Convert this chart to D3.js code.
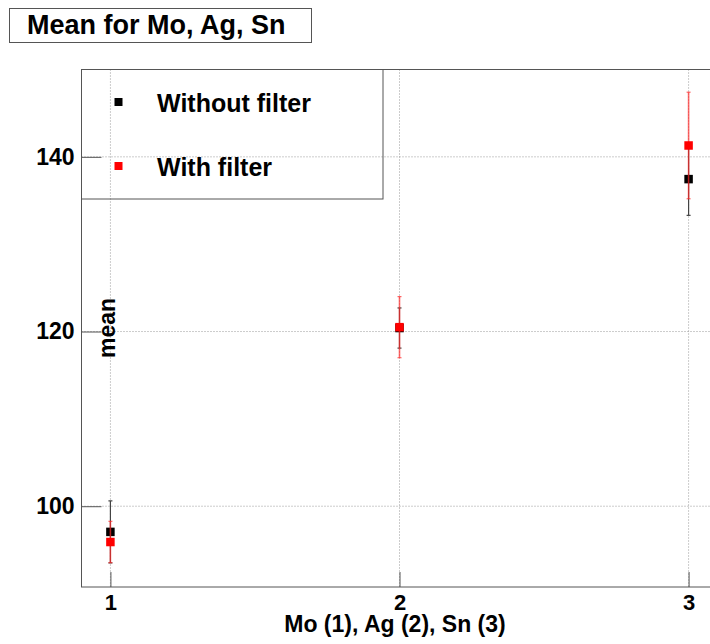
<!DOCTYPE html>
<head>
<meta charset="utf-8">
<script src="https://cdn.jsdelivr.net/npm/d3@7"></script>
<style>
body { margin: 0; background: #fff; }
svg text { font-family: "Liberation Sans", Arial, sans-serif; font-weight: bold; fill: #000; }
.axis .domain { display: none; }
.axis line { stroke: #555; }
</style>
</head>
<body>
<svg id="chart" width="710" height="644"></svg>
<script>
// values
var categories = [1, 2, 3];
var withoutMean = [97.06, 120.4, 137.45];
var withoutErr = [3.55, 2.3, 4.15];
var withMean = [95.9, 120.5, 141.3];
var withErr = [2.37, 3.5, 6.1];
var xTicks = [1, 2, 3];
var yTicks = [100, 120, 140];

var svg = d3.select("#chart");

var x = d3.scaleLinear().domain([0.9, 3.1]).range([81.5, 717.5]);
var y = d3.scaleLinear().domain([90.75, 150]).range([587, 69.5]);

// grid
svg.append("g").selectAll("line").data(xTicks).enter().append("line")
    .attr("x1", d => x(d)).attr("x2", d => x(d))
    .attr("y1", y(150)).attr("y2", y(90.75))
    .attr("stroke", "#999").attr("stroke-dasharray", "1,2");
svg.append("g").selectAll("line").data(yTicks).enter().append("line")
    .attr("x1", x(0.9)).attr("x2", x(3.1))
    .attr("y1", d => y(d)).attr("y2", d => y(d))
    .attr("stroke", "#999").attr("stroke-dasharray", "1,2");

// frame
svg.append("rect")
    .attr("x", x(0.9)).attr("y", y(150))
    .attr("width", x(3.1) - x(0.9)).attr("height", y(90.75) - y(150))
    .attr("fill", "none").attr("stroke", "#555");

var yAxis = svg.append("g").attr("class", "axis")
    .attr("transform", `translate(${x(0.9)},0)`)
    .call(d3.axisLeft(y).tickValues(yTicks).tickSizeInner(-20).tickSizeOuter(0).tickPadding(7));
yAxis.selectAll("text").style("font-size", "23px");

var xAxis = svg.append("g").attr("class", "axis")
    .attr("transform", `translate(0,${y(90.75)})`)
    .call(d3.axisBottom(x).tickValues(xTicks).tickFormat(d3.format("d")).tickSizeInner(-15).tickSizeOuter(0).tickPadding(7));
xAxis.selectAll("text").style("font-size", "22px");

// axis titles
svg.append("text").attr("x", 395).attr("y", 632).attr("text-anchor", "middle")
    .style("font-size", "23px").text("Mo (1), Ag (2), Sn (3)");
svg.append("text").attr("transform", "translate(115,328) rotate(-90)").attr("text-anchor", "middle")
    .style("font-size", "23px").text("mean");

function drawSeries(means, errs, color, errColor, errWidth) {
    var g = svg.append("g");
    var pts = categories.map((c, i) => ({c: c, m: means[i], e: errs[i]}));
    g.selectAll("line.bar").data(pts).enter().append("line").attr("class", "bar")
        .attr("x1", d => x(d.c)).attr("x2", d => x(d.c))
        .attr("y1", d => y(d.m + d.e)).attr("y2", d => y(d.m - d.e))
        .attr("stroke", errColor).attr("stroke-width", errWidth);
    [1, -1].forEach(function(s) {
        g.selectAll("line.cap" + s).data(pts).enter().append("line")
            .attr("x1", d => x(d.c) - 2).attr("x2", d => x(d.c) + 2)
            .attr("y1", d => y(d.m + s * d.e)).attr("y2", d => y(d.m + s * d.e))
            .attr("stroke", errColor).attr("stroke-width", 1.2);
    });
    g.selectAll("rect").data(pts).enter().append("rect")
        .attr("x", d => x(d.c) - 4.25).attr("y", d => y(d.m) - 4.25)
        .attr("width", 8.5).attr("height", 8.5).attr("fill", color);
}
drawSeries(withoutMean, withoutErr, "#000", "#444", 1.2);
drawSeries(withMean, withErr, "#ff0000", "rgba(255,40,40,0.7)", 1.6);

// legend
var legend = [{name: "Without filter", color: "#000"}, {name: "With filter", color: "#ff0000"}];
svg.append("rect").attr("x", x(0.9)).attr("y", y(150)).attr("width", 301.5).attr("height", 129.5)
    .attr("fill", "none").attr("stroke", "#555");
var lg = svg.selectAll("g.legend").data(legend).enter().append("g").attr("class", "legend")
    .attr("transform", (d, i) => `translate(118.5,${102 + i * 64})`);
lg.append("rect").attr("x", -4).attr("y", -4).attr("width", 8).attr("height", 8).attr("fill", d => d.color);
lg.append("text").attr("x", 38.5).attr("y", 9.5).style("font-size", "25px").text(d => d.name);

// title
svg.append("rect").attr("x", 9.5).attr("y", 8.5).attr("width", 302).attr("height", 34)
    .attr("fill", "#fff").attr("stroke", "#555");
svg.append("text").attr("x", 27).attr("y", 33.5).style("font-size", "27px").text("Mean for Mo, Ag, Sn");
</script>
</body>
</html>
